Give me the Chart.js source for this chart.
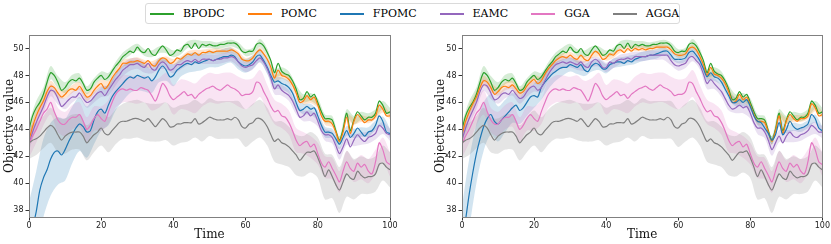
<!DOCTYPE html>
<html lang="en">
<head>
<meta charset="UTF-8">
<title>Objective value over time</title>
<script src="https://cdn.jsdelivr.net/npm/chart.js@4.4.1/dist/chart.umd.min.js"></script>
<style>
    body { margin: 0; width: 831px; height: 244px; background: #fff; position: relative; overflow: hidden; font-family: "DejaVu Serif", serif; }
    #legend { position: absolute; left: 145px; top: 3px; width: 535px; height: 21px; box-sizing: border-box;
              border: 1px solid #dadada; border-radius: 3px; display: flex; align-items: center; padding-left: 4px;
              font-size: 11px; color: #000; }
    .item { display: flex; align-items: center; margin-right: 23px; }
    .swatch { display: inline-block; width: 24px; height: 2px; margin-right: 9px; }
    #left { position: absolute; left: 0; top: 28px; }
    #right { position: absolute; left: 411px; top: 28px; }
</style>
</head>
<body>
<div id="legend"></div>
<canvas id="left" width="411" height="216"></canvas>
<canvas id="right" width="420" height="216"></canvas>
<script>
const seriesNames = ['BPODC', 'POMC', 'FPOMC', 'EAMC', 'GGA', 'AGGA'];
const seriesColors = ['#2ca02c', '#ff7f0e', '#1f77b4', '#9467bd', '#e377c2', '#7f7f7f'];
const xTicks = [0, 20, 40, 60, 80, 100];
const yTicks = [38, 40, 42, 44, 46, 48, 50];

// mean curves, one value per time step 0..100
const bpodc = [
    44.0,45.0,45.6,46.0,46.6,47.5,48.2,48.0,47.5,46.9,
    47.1,47.5,47.7,47.6,47.8,47.4,46.9,47.0,47.5,47.8,
    48.0,47.7,47.9,48.3,48.7,49.0,49.4,49.6,49.8,49.7,
    50.1,49.8,49.7,50.0,49.6,49.5,49.9,50.2,49.9,49.5,
    49.6,49.9,49.8,50.2,50.3,50.0,50.4,50.0,50.3,50.2,
    50.3,50.2,50.2,50.3,50.3,50.4,50.4,50.4,50.2,49.8,
    49.7,49.8,49.8,50.3,50.4,50.2,49.7,49.1,48.2,48.9,
    48.3,48.1,48.0,47.6,47.0,46.2,46.3,46.8,46.4,46.6,
    46.0,45.3,44.8,44.8,44.7,43.9,43.2,44.0,45.2,43.9,
    44.7,45.3,45.0,44.7,44.9,44.9,45.2,46.1,45.8,45.2,
    45.3];
const pomcLeft = [
    43.2,44.2,45.0,45.6,46.1,46.8,47.2,47.1,46.7,46.4,
    46.6,46.9,47.0,46.9,47.2,46.8,46.4,46.5,46.9,47.2,
    47.4,47.0,47.3,47.8,48.2,48.5,48.9,48.9,49.0,49.0,
    49.1,49.0,48.9,49.1,48.8,48.7,49.1,49.3,49.2,48.9,
    49.0,49.3,49.2,49.4,49.6,49.5,49.7,49.5,49.7,49.7,
    49.8,49.7,49.8,49.8,49.8,49.8,49.9,49.8,49.6,49.2,
    49.1,49.1,49.3,49.7,49.9,49.6,49.2,48.6,47.8,48.4,
    48.0,47.9,47.7,47.3,46.7,46.0,46.1,46.5,46.2,46.4,
    45.8,45.0,44.6,44.6,44.4,43.8,43.1,43.8,44.9,43.7,
    44.6,45.1,44.8,44.5,44.7,44.7,45.0,45.8,45.5,45.0,
    45.0];
const fpomcLeft = [
    35.6,36.7,37.9,39.5,40.4,41.0,41.8,42.3,42.4,42.1,
    42.5,43.1,43.6,44.1,44.4,44.2,43.8,43.9,44.7,45.3,
    45.5,45.2,45.8,46.4,46.8,47.1,47.4,47.7,47.9,47.8,
    48.0,47.9,47.8,47.9,47.6,47.9,48.4,48.7,48.4,47.9,
    48.0,48.4,48.6,48.8,48.9,48.8,49.0,48.9,49.0,49.1,
    49.2,49.1,49.2,49.3,49.4,49.4,49.5,49.4,49.0,48.8,
    48.7,48.8,49.0,49.4,49.5,49.1,48.6,48.0,47.5,47.6,
    47.4,47.3,47.1,46.7,46.0,45.4,45.5,45.7,45.5,45.6,
    45.0,44.3,43.8,43.8,43.7,43.3,42.9,43.4,43.9,43.4,
    43.7,44.1,43.8,43.5,43.8,43.9,44.3,45.0,44.6,43.8,
    43.7];
const eamcLeft = [
    42.9,43.8,44.5,45.1,45.7,46.4,46.9,46.8,46.3,45.7,
    45.9,46.2,46.4,46.4,46.7,46.3,46.0,46.1,46.4,46.7,
    46.8,46.5,46.9,47.3,47.7,48.0,48.4,48.6,48.8,48.8,
    48.9,48.7,48.6,48.9,48.5,48.4,48.8,49.0,48.8,48.4,
    48.5,48.8,48.8,49.0,49.1,49.0,49.2,49.0,49.2,49.2,
    49.2,49.1,49.2,49.2,49.3,49.3,49.4,49.3,49.0,48.7,
    48.6,48.7,48.8,49.1,49.3,49.0,48.5,47.8,47.0,47.3,
    46.9,46.7,46.5,46.1,45.5,44.9,45.0,45.3,45.0,45.2,
    44.6,43.9,43.6,43.6,43.4,42.8,42.2,42.7,43.3,42.7,
    43.2,43.6,43.3,43.1,43.4,43.5,43.7,44.3,44.1,43.7,
    43.6];
const gga = [
    42.9,43.5,44.0,44.6,45.2,45.5,46.0,45.3,44.7,44.4,
    44.4,44.7,44.9,44.9,45.1,44.6,44.0,44.3,44.8,45.1,
    44.8,44.6,45.3,46.0,46.6,46.9,47.0,46.9,47.0,46.9,
    46.9,47.1,47.0,46.9,46.5,46.1,46.7,47.4,47.1,46.5,
    46.2,46.4,46.6,46.8,46.5,46.6,46.3,46.6,46.8,47.0,
    47.1,47.2,47.0,46.9,47.1,47.3,47.1,47.0,46.8,46.5,
    46.6,46.6,46.8,47.5,47.4,46.8,46.3,45.7,45.3,45.4,
    45.0,44.9,44.5,43.9,43.2,42.8,43.0,43.1,42.7,42.9,
    42.2,41.5,41.2,41.6,41.1,40.6,40.1,40.9,41.6,41.1,
    40.9,41.5,41.2,41.4,40.9,40.7,41.6,43.0,42.5,41.6,
    41.4];
const agga = [
    43.0,43.2,43.3,43.5,43.8,44.1,44.3,44.1,43.6,43.2,
    43.5,43.7,43.8,43.8,43.8,43.5,43.0,43.3,43.6,43.8,
    44.1,43.7,43.6,43.9,44.2,44.5,44.6,44.6,44.7,44.8,
    44.8,44.7,44.6,44.8,44.5,44.2,44.5,44.8,44.6,44.2,
    44.2,44.4,44.4,44.5,44.5,44.5,44.8,44.4,44.5,44.7,
    44.9,44.8,44.7,44.7,44.7,44.8,44.7,44.9,44.7,44.2,
    44.1,44.4,44.5,44.8,44.8,44.6,44.2,43.6,43.1,43.3,
    43.0,42.9,42.7,42.4,42.1,41.7,42.0,42.3,42.3,42.4,
    41.9,41.2,40.5,41.0,40.5,39.9,39.5,40.1,40.7,40.4,
    40.3,40.9,40.6,40.4,40.5,40.5,40.7,41.4,41.5,41.2,
    41.0];
const pomcRight = [
    43.6,44.6,45.3,45.9,46.4,47.1,47.6,47.5,47.1,46.6,
    46.8,47.1,47.2,47.1,47.3,47.0,46.7,46.8,47.2,47.5,
    47.7,47.4,47.6,48.1,48.5,48.8,49.1,49.3,49.4,49.3,
    49.5,49.3,49.2,49.5,49.2,49.1,49.5,49.8,49.6,49.2,
    49.3,49.6,49.5,49.8,49.9,49.7,50.0,49.8,50.0,49.9,
    50.0,49.9,50.0,50.0,50.1,50.1,50.1,50.1,49.9,49.6,
    49.5,49.5,49.6,50.0,50.1,49.9,49.4,48.8,48.0,48.6,
    48.1,48.0,47.8,47.4,46.8,46.0,46.1,46.6,46.2,46.4,
    45.8,45.1,44.6,44.6,44.5,43.8,43.1,43.9,45.0,43.7,
    44.6,45.1,44.8,44.6,44.8,44.8,45.0,45.9,45.6,45.0,
    45.1];
const fpomcRight = [
    35.5,37.3,39.2,40.8,42.2,43.3,44.2,44.8,45.1,44.6,
    44.4,44.7,45.0,45.3,45.6,45.8,45.4,45.6,46.0,46.4,
    46.5,46.4,47.1,47.5,47.8,48.1,48.3,48.5,48.6,48.6,
    48.8,48.7,48.6,48.8,48.4,48.3,48.7,48.9,48.8,48.5,
    48.5,48.8,48.9,49.0,49.0,48.9,49.1,49.0,49.2,49.3,
    49.4,49.4,49.5,49.5,49.6,49.7,49.8,49.8,49.5,49.2,
    49.2,49.2,49.3,49.7,49.8,49.5,49.1,48.5,47.9,48.2,
    47.9,47.8,47.5,47.0,46.5,46.0,46.0,46.2,46.0,46.2,
    45.7,45.0,44.6,44.5,44.1,43.7,43.2,43.6,44.5,43.6,
    44.0,44.6,44.2,44.0,44.1,44.2,44.4,45.1,44.8,44.1,
    43.9];
const eamcRight = [
    43.2,44.1,44.8,45.4,46.0,46.8,47.3,47.2,46.7,46.2,
    46.3,46.6,46.7,46.6,46.9,46.6,46.3,46.4,46.8,47.1,
    47.2,46.9,47.1,47.6,48.1,48.5,48.8,48.9,49.0,48.9,
    49.0,48.9,48.8,49.0,48.7,48.6,49.0,49.2,49.0,48.6,
    48.6,49.0,48.9,49.1,49.2,49.2,49.3,49.2,49.4,49.4,
    49.4,49.4,49.5,49.5,49.5,49.5,49.5,49.5,49.1,48.8,
    48.7,48.8,48.9,49.3,49.4,49.1,48.8,48.1,47.4,47.7,
    47.4,47.1,46.8,46.3,45.8,45.5,45.6,45.8,45.6,45.7,
    45.2,44.5,44.1,44.1,43.8,43.2,42.5,43.0,43.5,43.0,
    43.5,43.8,43.5,43.4,43.6,43.7,43.9,44.3,44.1,43.8,
    43.8];

// spread of the shaded bands, one value per 2 time steps (0, 2, ..., 100)
const bpodcSd = [
    0.5,0.5,0.5,0.5,0.45,0.4,0.35,0.35,0.3,0.3,
    0.3,0.3,0.3,0.3,0.3,0.25,0.25,0.25,0.25,0.25,
    0.25,0.25,0.25,0.25,0.25,0.25,0.25,0.25,0.25,0.25,
    0.25,0.25,0.3,0.3,0.3,0.3,0.3,0.3,0.3,0.3,
    0.3,0.3,0.3,0.3,0.3,0.3,0.3,0.3,0.3,0.3,
    0.3];
const pomcSd = [
    0.6,0.5,0.45,0.4,0.35,0.3,0.3,0.3,0.3,0.3,
    0.3,0.3,0.25,0.25,0.25,0.25,0.25,0.25,0.2,0.2,
    0.2,0.2,0.2,0.2,0.2,0.2,0.2,0.2,0.2,0.2,
    0.2,0.2,0.2,0.2,0.25,0.25,0.25,0.25,0.25,0.25,
    0.25,0.25,0.25,0.25,0.25,0.25,0.25,0.25,0.25,0.25,
    0.25];
const fpomcSdLeft = [
    3.0,3.0,2.9,2.7,2.5,2.3,2.1,2.0,1.9,1.8,
    1.6,1.5,1.4,1.3,1.2,1.1,1.0,0.9,0.9,0.8,
    0.8,0.7,0.7,0.7,0.6,0.6,0.6,0.6,0.55,0.55,
    0.5,0.5,0.5,0.5,0.45,0.45,0.45,0.4,0.4,0.4,
    0.4,0.4,0.35,0.35,0.35,0.35,0.35,0.35,0.35,0.35,
    0.35];
const fpomcSdRight = [
    2.8,2.6,2.2,1.8,1.5,1.3,1.2,1.1,1.0,1.0,
    0.9,0.9,0.8,0.7,0.6,0.5,0.5,0.45,0.4,0.4,
    0.35,0.35,0.35,0.35,0.35,0.35,0.35,0.35,0.3,0.3,
    0.3,0.3,0.3,0.3,0.3,0.3,0.3,0.3,0.3,0.3,
    0.3,0.3,0.3,0.3,0.3,0.3,0.3,0.3,0.3,0.3,
    0.3];
const eamcSd = [
    0.5,0.5,0.5,0.45,0.45,0.4,0.4,0.4,0.4,0.4,
    0.4,0.4,0.45,0.45,0.45,0.4,0.4,0.35,0.35,0.35,
    0.35,0.35,0.35,0.35,0.35,0.35,0.35,0.35,0.35,0.35,
    0.35,0.35,0.35,0.35,0.4,0.4,0.4,0.4,0.4,0.4,
    0.4,0.45,0.45,0.45,0.45,0.45,0.45,0.45,0.45,0.45,
    0.45];
const ggaSd = [
    1.0,1.0,0.9,0.9,0.9,0.9,0.9,0.9,0.9,0.9,
    0.9,0.9,1.0,1.0,1.0,1.0,1.0,1.1,1.1,1.1,
    1.1,1.1,1.1,1.1,1.1,1.1,1.1,1.1,1.1,1.1,
    1.1,1.0,1.0,1.0,0.9,0.9,0.9,0.9,0.8,0.8,
    0.8,0.8,0.8,0.8,0.8,0.8,0.9,0.9,0.9,0.9,
    0.9];
const aggaSd = [
    1.2,1.2,1.2,1.3,1.3,1.3,1.3,1.3,1.3,1.3,
    1.3,1.3,1.3,1.3,1.4,1.4,1.4,1.4,1.4,1.4,
    1.4,1.4,1.4,1.4,1.4,1.4,1.4,1.4,1.4,1.4,
    1.4,1.4,1.4,1.4,1.5,1.6,1.5,1.5,1.5,1.5,
    1.5,1.7,1.6,1.7,1.7,1.5,1.4,1.3,1.3,1.3,
    1.3];

const times = [];
for (let t = 0; t <= 100; t++) times.push(t);

function rgba(hex, a) {
    const n = parseInt(hex.slice(1), 16);
    return 'rgba(' + (n >> 16) + ',' + ((n >> 8) & 255) + ',' + (n & 255) + ',' + a + ')';
}

function band(mean, sd, sign) {
    return sd.map((s, i) => ({ x: 2 * i, y: mean[2 * i] + sign * s }));
}

function buildDatasets(series) {
    const sets = [];
    series.forEach((s, k) => {
        const col = seriesColors[k];
        sets.push({ data: band(s[0], s[1], 1), borderWidth: 0, pointRadius: 0, tension: 0.3,
                    fill: '+1', backgroundColor: rgba(col, 0.2), order: 20 - k });
        sets.push({ data: band(s[0], s[1], -1), borderWidth: 0, pointRadius: 0, tension: 0.3,
                    fill: false, order: 20 - k });
        sets.push({ label: seriesNames[k], data: times.map((t, i) => ({ x: t, y: s[0][i] })),
                    borderColor: col, borderWidth: 1.2, pointRadius: 0, tension: 0.3,
                    fill: false, order: 10 - k });
    });
    return sets;
}

const frame = {
    id: 'frame',
    afterDraw(chart) {
        const a = chart.chartArea, ctx = chart.ctx;
        ctx.save();
        ctx.strokeStyle = '#808080';
        ctx.lineWidth = 1;
        ctx.strokeRect(Math.round(a.left) + 0.5, Math.round(a.top) + 0.5,
                       Math.round(a.right - a.left), Math.round(a.bottom - a.top));
        ctx.restore();
    }
};

function makePanel(id, series, padLeft, yWidth, padRight) {
    new Chart(document.getElementById(id), {
        type: 'line',
        data: { datasets: buildDatasets(series) },
        plugins: [frame],
        options: {
            responsive: false,
            animation: false,
            events: [],
            layout: { padding: { left: padLeft, top: 7, right: padRight, bottom: 0 } },
            plugins: { legend: { display: false }, tooltip: { enabled: false } },
            scales: {
                x: {
                    type: 'linear', min: 0, max: 100,
                    afterBuildTicks: s => { s.ticks = xTicks.map(v => ({ value: v })); },
                    afterFit: s => { s.height = 27; },
                    ticks: { font: { family: 'DejaVu Sans', size: 8 }, color: '#222', padding: 1,
                             maxRotation: 0, autoSkip: false },
                    grid: { display: true, drawOnChartArea: false, tickLength: 3.5, color: '#333' },
                    border: { display: false },
                    title: { display: true, text: 'Time', color: '#111',
                             font: { family: 'DejaVu Serif', size: 12 }, padding: { top: 0, bottom: 2 } }
                },
                y: {
                    type: 'linear', min: 37.5, max: 51,
                    afterBuildTicks: s => { s.ticks = yTicks.map(v => ({ value: v })); },
                    afterFit: s => { s.width = yWidth; },
                    ticks: { font: { family: 'DejaVu Sans', size: 8 }, color: '#222', padding: 2 },
                    grid: { display: true, drawOnChartArea: false, tickLength: 3.5, color: '#333' },
                    border: { display: false },
                    title: { display: true, text: 'Objective value', color: '#111',
                             font: { family: 'DejaVu Serif', size: 12 }, padding: { top: 3, bottom: 0 } }
                }
            }
        }
    });
}

// legend
const legend = document.getElementById('legend');
seriesNames.forEach((name, k) => {
    const item = document.createElement('div');
    item.className = 'item';
    const sw = document.createElement('span');
    sw.className = 'swatch';
    sw.style.backgroundColor = seriesColors[k];
    const txt = document.createElement('span');
    txt.textContent = name;
    item.appendChild(sw);
    item.appendChild(txt);
    legend.appendChild(item);
});

makePanel('left', [
    [bpodc, bpodcSd], [pomcLeft, pomcSd], [fpomcLeft, fpomcSdLeft],
    [eamcLeft, eamcSd], [gga, ggaSd], [agga, aggaSd]
], 0, 29, 21);

makePanel('right', [
    [bpodc, bpodcSd], [pomcRight, pomcSd], [fpomcRight, fpomcSdRight],
    [eamcRight, eamcSd], [gga, ggaSd], [agga, aggaSd]
], 20, 31, 7);
</script>
</body>
</html>
